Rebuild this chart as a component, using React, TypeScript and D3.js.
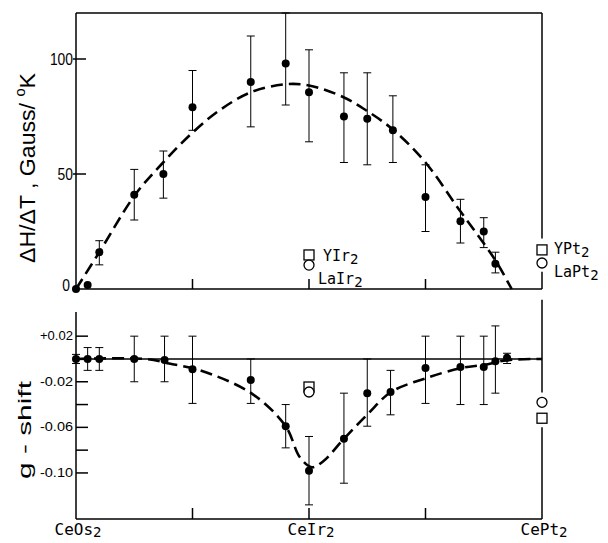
import React from 'react';
import * as d3 from 'd3';

// composition axis: 0 = CeOs2, 0.5 = CeIr2, 1 = CePt2
const compTicks = [0, 0.25, 0.5, 0.75, 1];
const compLabels = [
  { t: 0, base: 'CeOs' },
  { t: 0.5, base: 'CeIr' },
  { t: 1, base: 'CePt' },
];

// upper panel: dH/dT (Gauss/K)
const hX = [0, 0.025, 0.05, 0.125, 0.1875, 0.25, 0.375, 0.45, 0.5, 0.575, 0.625, 0.68, 0.75, 0.825, 0.875, 0.9];
const hVal = [0, 1.7, 16, 41, 50, 79, 90, 98, 85.5, 75, 74, 69, 40, 29.5, 25, 11];
const hLo = [null, null, 10.5, 30, 39.5, 69, 70.5, 80, 64, 55, 54, 55, 25, 20, 18, 7];
const hHi = [null, null, 21, 52, 60, 95, 110, 120, 104, 94, 94, 84, 54, 39, 31, 16];
const hTicks = [0, 50, 100];

// dashed fit, upper panel
const hFitX = [0, 0.05, 0.127, 0.187, 0.25, 0.31, 0.375, 0.448, 0.5, 0.573, 0.624, 0.682, 0.75, 0.824, 0.878, 0.903, 0.935];
const hFitY = [0, 16, 41, 55, 68, 78, 85.5, 89, 88.5, 83.5, 77.5, 69, 55, 34, 19, 11.5, 0];

// lower panel: g-shift
const gX = [0, 0.025, 0.05, 0.125, 0.19, 0.25, 0.375, 0.45, 0.5, 0.575, 0.625, 0.675, 0.75, 0.825, 0.875, 0.9, 0.925];
const gVal = [0, 0, 0, 0, -0.001, -0.009, -0.0185, -0.059, -0.098, -0.07, -0.03, -0.029, -0.008, -0.007, -0.007, -0.002, 0.001];
const gLo = [-0.004, -0.01, -0.01, -0.02, -0.02, -0.039, -0.039, -0.078, -0.128, -0.109, -0.059, -0.049, -0.039, -0.04, -0.04, -0.03, -0.004];
const gHi = [0.004, 0.01, 0.01, 0.02, 0.02, 0.02, 0, -0.04, -0.068, -0.03, 0, -0.01, 0.02, 0.02, 0.02, 0.029, 0.005];
const gTicks = [0.02, -0.02, -0.04, -0.06, -0.08, -0.1];
const gTickLabels = ['+0.02', '-0.02', '', '-0.06', '', '-0.10'];

const gFitX = [0, 0.15, 0.2, 0.266, 0.376, 0.45, 0.48, 0.506, 0.53, 0.575, 0.627, 0.676, 0.75, 0.826, 0.878, 0.925, 1];
const gFitY = [0, 0, -0.004, -0.01, -0.03, -0.059, -0.086, -0.095, -0.09, -0.07, -0.048, -0.029, -0.017, -0.008, -0.005, -0.001, 0];

// reference compounds (open symbols)
const refs = [
  { name: 'YIr', t: 0.5, shape: 'square', h: 14.8, g: -0.0246 },
  { name: 'LaIr', t: 0.5, shape: 'circle', h: 10.4, g: -0.029 },
  { name: 'YPt', t: 1, shape: 'square', h: 17, g: -0.052 },
  { name: 'LaPt', t: 1, shape: 'circle', h: 11.3, g: -0.038 },
];
// label offsets for the upper panel reference names
const refLabelPos = [
  { dx: 14, dy: 6 },
  { dx: 9, dy: 19 },
  { dx: 12, dy: 4 },
  { dx: 12, dy: 14 },
];

const SANS = '"Liberation Sans", Arial, sans-serif';
const MONO = '"DejaVu Sans Mono", monospace';

export default function App() {
  const x = d3.scaleLinear().domain([0, 1]).range([76, 542]);
  const yH = d3.scaleLinear().domain([0, 120]).range([289, 13]);
  const yG = d3.scaleLinear().domain([-0.1404, 0.0412]).range([519, 312]);

  const hLine = d3.line<number>()
    .x((d, i) => x(hFitX[i]))
    .y(d => yH(d))
    .curve(d3.curveCatmullRom);
  const gLine = d3.line<number>()
    .x((d, i) => x(gFitX[i]))
    .y(d => yG(d))
    .curve(d3.curveCatmullRom);

  const cap = 4;

  const marker = (shape: string, cx: number, cy: number, key: string) =>
    shape === 'square'
      ? <rect key={key} x={cx - 5} y={cy - 5} width={10} height={10} fill="#fff" stroke="#000" strokeWidth={1.3} />
      : <circle key={key} cx={cx} cy={cy} r={5} fill="#fff" stroke="#000" strokeWidth={1.3} />;

  return (
    <svg width={608} height={543} style={{ position: 'absolute', left: 0, top: 0, background: '#fff' }}>
      {/* ---------- upper panel frame ---------- */}
      <g stroke="#000" strokeWidth={1.5} fill="none">
        <line x1={x(0)} x2={x(0)} y1={yH(120)} y2={yH(0)} />
        <line x1={x(0)} x2={x(1)} y1={yH(120)} y2={yH(120)} />
        <line x1={x(0)} x2={x(1)} y1={yH(0)} y2={yH(0)} />
        <line x1={x(1)} x2={x(1)} y1={yH(120)} y2={yH(22)} />
        <line x1={x(1)} x2={x(1)} y1={yH(7.5)} y2={yH(0)} />
        {compTicks.slice(1, 4).map(t => (
          <line key={t} x1={x(t)} x2={x(t)} y1={yH(0)} y2={yH(0) - 10} />
        ))}
        {hTicks.slice(1).map(v => (
          <line key={v} x1={x(0) - 3} x2={x(0) + 10} y1={yH(v)} y2={yH(v)} />
        ))}
      </g>
      {hTicks.map(v => (
        <text key={v} x={v === 0 ? 70 : 73} y={yH(v) + (v === 0 ? 2 : 6)} textAnchor="end"
          fontFamily={SANS} fontSize={16} textLength={String(v).length * 7.7}
          lengthAdjust="spacingAndGlyphs">{v}</text>
      ))}
      <text transform="translate(35,168) rotate(-90)" textAnchor="middle" fontFamily={SANS}
        fontSize={22} textLength={190} lengthAdjust="spacingAndGlyphs">
        ΔH/ΔT , Gauss/ <tspan fontSize={14} dy={-10}>o</tspan><tspan dy={10}>K</tspan>
      </text>

      {/* upper fit */}
      <path d={hLine(hFitY) || ''} fill="none" stroke="#000" strokeWidth={2.6} strokeDasharray="12 6" />

      {/* upper error bars + points */}
      <g stroke="#000" strokeWidth={1}>
        {hX.map((t, i) => hLo[i] === null ? null : (
          <g key={i}>
            <line x1={x(t)} x2={x(t)} y1={yH(hLo[i] as number)} y2={yH(hHi[i] as number)} />
            <line x1={x(t) - cap} x2={x(t) + cap} y1={yH(hLo[i] as number)} y2={yH(hLo[i] as number)} />
            <line x1={x(t) - cap} x2={x(t) + cap} y1={yH(hHi[i] as number)} y2={yH(hHi[i] as number)} />
          </g>
        ))}
      </g>
      {hX.map((t, i) => (
        <circle key={i} cx={x(t)} cy={yH(hVal[i])} r={4} fill="#000" />
      ))}

      {/* upper reference compounds */}
      {refs.map((r, i) => marker(r.shape, x(r.t), yH(r.h), 'hr' + i))}
      {refs.map((r, i) => (
        <text key={'hl' + i} x={x(r.t) + refLabelPos[i].dx} y={yH(r.h) + refLabelPos[i].dy}
          fontFamily={MONO} fontSize={15}>
          {r.name}<tspan fontSize={14} dy={3}>2</tspan>
        </text>
      ))}

      {/* ---------- lower panel frame ---------- */}
      <g stroke="#000" strokeWidth={1.5} fill="none">
        <line x1={x(0)} x2={x(0)} y1={yG(0.0412)} y2={yG(-0.1404)} />
        <line x1={x(0)} x2={x(1)} y1={yG(-0.1404)} y2={yG(-0.1404)} />
        <line x1={x(1)} x2={x(1)} y1={yG(0.052)} y2={yG(-0.0295)} />
        <line x1={x(1)} x2={x(1)} y1={yG(-0.06)} y2={yG(-0.1404)} />
        <line x1={x(0)} x2={x(1)} y1={yG(0)} y2={yG(0)} />
        {compTicks.slice(1, 4).map(t => (
          <line key={t} x1={x(t)} x2={x(t)} y1={yG(-0.1404)} y2={yG(-0.1404) - 11} />
        ))}
        {gTicks.map(v => (
          <line key={v} x1={x(0)} x2={x(0) + 12} y1={yG(v)} y2={yG(v)} />
        ))}
      </g>
      {gTicks.map((v, i) => gTickLabels[i] ? (
        <text key={v} x={73} y={yG(v) + 4} textAnchor="end" fontFamily={SANS} fontSize={12}
          textLength={33} lengthAdjust="spacingAndGlyphs">{gTickLabels[i]}</text>
      ) : null)}
      <text transform="translate(31,430) rotate(-90)" textAnchor="middle" fontFamily={SANS}
        fontSize={19} textLength={98} lengthAdjust="spacingAndGlyphs">g - shift</text>

      {/* lower fit */}
      <path d={gLine(gFitY) || ''} fill="none" stroke="#000" strokeWidth={2.6} strokeDasharray="12 6" />

      <g stroke="#000" strokeWidth={1}>
        {gX.map((t, i) => (
          <g key={i}>
            <line x1={x(t)} x2={x(t)} y1={yG(gLo[i])} y2={yG(gHi[i])} />
            <line x1={x(t) - cap} x2={x(t) + cap} y1={yG(gLo[i])} y2={yG(gLo[i])} />
            <line x1={x(t) - cap} x2={x(t) + cap} y1={yG(gHi[i])} y2={yG(gHi[i])} />
          </g>
        ))}
      </g>
      {gX.map((t, i) => (
        <circle key={i} cx={x(t)} cy={yG(gVal[i])} r={4} fill="#000" />
      ))}

      {refs.map((r, i) => marker(r.shape, x(r.t), yG(r.g), 'gr' + i))}

      {/* composition labels */}
      {compLabels.map(c => (
        <text key={c.t} x={x(c.t) + 2} y={535} textAnchor="middle" fontFamily={MONO} fontSize={16}>
          {c.base}<tspan fontSize={14} dy={2}>2</tspan>
        </text>
      ))}
    </svg>
  );
}
